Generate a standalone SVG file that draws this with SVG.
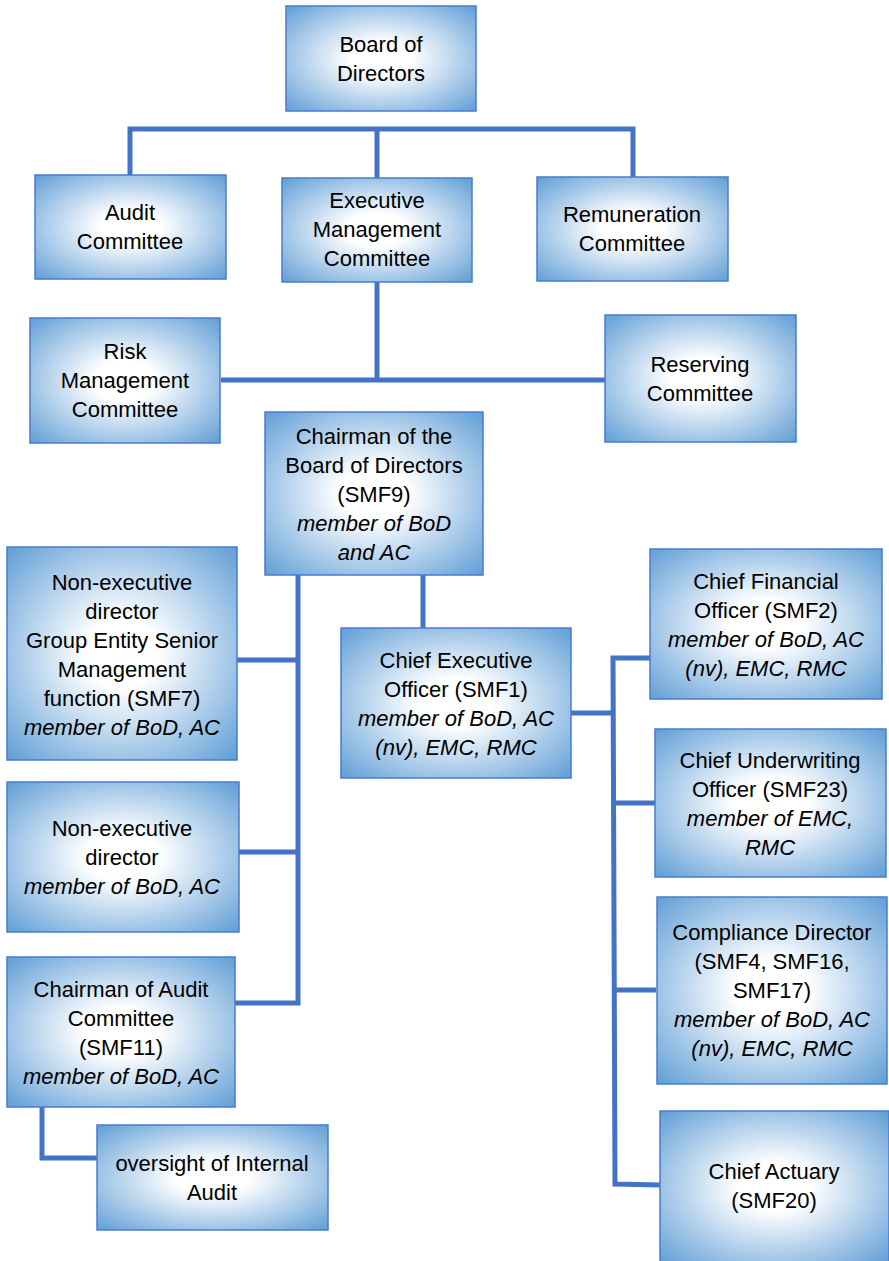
<svg xmlns="http://www.w3.org/2000/svg" width="889" height="1261" viewBox="0 0 889 1261">
<defs>
<radialGradient id="g" cx="0.5" cy="0.5" r="0.72">
<stop offset="0" stop-color="#ffffff"/>
<stop offset="0.22" stop-color="#ffffff"/>
<stop offset="1" stop-color="#5b9bd5"/>
</radialGradient>
</defs>
<style>
.box{fill:url(#g);stroke:#4a7ccc;stroke-width:1.5}
.t{font-family:"Liberation Sans",Arial,sans-serif;font-size:22px;text-anchor:middle;fill:#000}
.i{font-style:italic}
.c{fill:none;stroke:#4472c4;stroke-width:5;stroke-linejoin:miter;stroke-linecap:butt}
</style>
<rect width="889" height="1261" fill="#ffffff"/>
<g id="connectors">
<path class="c" d="M130,175 V129 H633 V177"/>
<path class="c" d="M377,129 V178"/>
<path class="c" d="M377,282 V380"/>
<path class="c" d="M221,380 H605"/>
<path class="c" d="M298,575 V1003 H235"/>
<path class="c" d="M237,660 H298"/>
<path class="c" d="M239,852 H298"/>
<path class="c" d="M423,575 V628"/>
<path class="c" d="M42,1107 V1158 H97"/>
<path class="c" d="M571,713 H613"/>
<path class="c" d="M650,658 H613 L615,1184 L660,1185"/>
<path class="c" d="M613,803 H655"/>
<path class="c" d="M614,990 H656"/>
</g>
<g id="board">
<rect class="box" x="286" y="6" width="190" height="105"/>
<text class="t" x="381" y="52">Board of</text>
<text class="t" x="381" y="81">Directors</text>
</g>
<g id="audit">
<rect class="box" x="35" y="175" width="191" height="104"/>
<text class="t" x="130" y="220">Audit</text>
<text class="t" x="130" y="249">Committee</text>
</g>
<g id="emc">
<rect class="box" x="282" y="178" width="190" height="104"/>
<text class="t" x="377" y="208">Executive</text>
<text class="t" x="377" y="237">Management</text>
<text class="t" x="377" y="266">Committee</text>
</g>
<g id="remuneration">
<rect class="box" x="537" y="177" width="191" height="104"/>
<text class="t" x="632" y="222">Remuneration</text>
<text class="t" x="632" y="251">Committee</text>
</g>
<g id="risk">
<rect class="box" x="30" y="318" width="190" height="125"/>
<text class="t" x="125" y="359">Risk</text>
<text class="t" x="125" y="388">Management</text>
<text class="t" x="125" y="417">Committee</text>
</g>
<g id="reserving">
<rect class="box" x="605" y="315" width="191" height="127"/>
<text class="t" x="700" y="372">Reserving</text>
<text class="t" x="700" y="401">Committee</text>
</g>
<g id="chairman-bod">
<rect class="box" x="265" y="412" width="218" height="163"/>
<text class="t" x="374" y="444">Chairman of the</text>
<text class="t" x="374" y="473">Board of Directors</text>
<text class="t" x="374" y="502">(SMF9)</text>
<text class="t i" x="374" y="531">member of BoD</text>
<text class="t i" x="374" y="560">and AC</text>
</g>
<g id="ned-group">
<rect class="box" x="7" y="547" width="230" height="213"/>
<text class="t" x="122" y="590">Non-executive</text>
<text class="t" x="122" y="619">director</text>
<text class="t" x="122" y="648">Group Entity Senior</text>
<text class="t" x="122" y="677">Management</text>
<text class="t" x="122" y="706">function (SMF7)</text>
<text class="t i" x="122" y="735">member of BoD, AC</text>
</g>
<g id="ned">
<rect class="box" x="7" y="782" width="232" height="150"/>
<text class="t" x="122" y="836">Non-executive</text>
<text class="t" x="122" y="865">director</text>
<text class="t i" x="122" y="894">member of BoD, AC</text>
</g>
<g id="chairman-audit">
<rect class="box" x="7" y="957" width="228" height="150"/>
<text class="t" x="121" y="997">Chairman of Audit</text>
<text class="t" x="121" y="1026">Committee</text>
<text class="t" x="121" y="1055">(SMF11)</text>
<text class="t i" x="121" y="1084">member of BoD, AC</text>
</g>
<g id="internal-audit">
<rect class="box" x="97" y="1125" width="231" height="105"/>
<text class="t" x="212" y="1171">oversight of Internal</text>
<text class="t" x="212" y="1200">Audit</text>
</g>
<g id="ceo">
<rect class="box" x="341" y="628" width="230" height="150"/>
<text class="t" x="456" y="668">Chief Executive</text>
<text class="t" x="456" y="697">Officer (SMF1)</text>
<text class="t i" x="456" y="726">member of BoD, AC</text>
<text class="t i" x="456" y="755">(nv), EMC, RMC</text>
</g>
<g id="cfo">
<rect class="box" x="650" y="549" width="232" height="150"/>
<text class="t" x="766" y="589">Chief Financial</text>
<text class="t" x="766" y="618">Officer (SMF2)</text>
<text class="t i" x="766" y="647">member of BoD, AC</text>
<text class="t i" x="766" y="676">(nv), EMC, RMC</text>
</g>
<g id="cuo">
<rect class="box" x="655" y="729" width="231" height="148"/>
<text class="t" x="770" y="768">Chief Underwriting</text>
<text class="t" x="770" y="797">Officer (SMF23)</text>
<text class="t i" x="770" y="826">member of EMC,</text>
<text class="t i" x="770" y="855">RMC</text>
</g>
<g id="compliance">
<rect class="box" x="657" y="897" width="230" height="187"/>
<text class="t" x="772" y="940">Compliance Director</text>
<text class="t" x="772" y="969">(SMF4, SMF16,</text>
<text class="t" x="772" y="998">SMF17)</text>
<text class="t i" x="772" y="1027">member of BoD, AC</text>
<text class="t i" x="772" y="1056">(nv), EMC, RMC</text>
</g>
<g id="actuary">
<rect class="box" x="660" y="1111" width="229" height="152"/>
<text class="t" x="774" y="1179">Chief Actuary</text>
<text class="t" x="774" y="1208">(SMF20)</text>
</g>
</svg>
